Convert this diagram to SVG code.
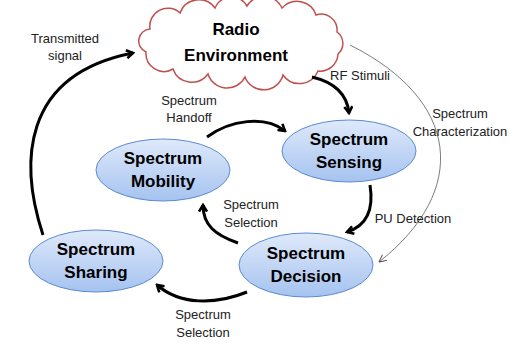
<svg xmlns="http://www.w3.org/2000/svg" width="510" height="344" viewBox="0 0 510 344">
<style>
.node ellipse{fill:url(#g);stroke:#5b8bd0;stroke-width:1}
.nt{font-family:"Liberation Sans",Arial,sans-serif;font-weight:bold;font-size:17px;fill:#000;text-anchor:middle}
.lb{font-family:"Liberation Sans",Arial,sans-serif;font-size:13px;fill:#222;text-anchor:middle}
.thick{fill:none;stroke:#000;stroke-width:3;marker-end:url(#ah)}
.thin{fill:none;stroke:#444;stroke-width:0.7;marker-end:url(#ahs)}
</style>
<defs>
<linearGradient id="g" x1="0" y1="0" x2="0" y2="1">
<stop offset="0" stop-color="#dfe9fa"/>
<stop offset="1" stop-color="#a5c3f0"/>
</linearGradient>
<marker id="ah" viewBox="0 0 10 10" refX="8" refY="5" markerWidth="10" markerHeight="10" markerUnits="userSpaceOnUse" orient="auto">
<path d="M1.5,1 L8,5 L1.5,9" fill="none" stroke="#000" stroke-width="2.6"/>
</marker>
<marker id="ahs" viewBox="0 0 10 10" refX="9" refY="5" markerWidth="9" markerHeight="9" markerUnits="userSpaceOnUse" orient="auto">
<path d="M1,1 L9,5 L1,9" fill="none" stroke="#444" stroke-width="1"/>
</marker>
</defs>
<g id="cloud">
<path d="M146,52 A12,12 0 0 1 150,29 A18,18 0 0 1 180,13 A20,20 0 0 1 215,8 A18,18 0 0 1 247,6 A20,20 0 0 1 282,8 A20,20 0 0 1 316,15 A16,16 0 0 1 337,32 A14,14 0 0 1 338,54 A18,18 0 0 1 318,71 A20,20 0 0 1 283,75 A20,20 0 0 1 245,77 A20,20 0 0 1 208,74 A20,20 0 0 1 173,69 A18,18 0 0 1 146,52 Z" fill="#fff" stroke="#c0504d" stroke-width="1.5"/>
<text class="nt" x="236" y="35">Radio</text>
<text class="nt" x="236" y="61">Environment</text>
</g>
<g id="connectors">
<path class="thick" d="M43,235 C20,165 20,75 133,53"/>
<path class="thick" d="M312,77 Q346,85 349,113"/>
<path class="thick" d="M370,185 C374,210 366,226 347,232"/>
<path class="thick" d="M238,243 C215,235 203,225 203,205"/>
<path class="thick" d="M247,292 C215,305 180,305 157,285"/>
<path class="thick" d="M207,137 C230,120 265,115 285,131"/>
<path class="thin" d="M350,45 C460,100 470,190 379,262"/>
<text class="lb" x="65" y="43">Transmitted</text>
<text class="lb" x="65" y="60">signal</text>
<text class="lb" x="360" y="80">RF Stimuli</text>
<text class="lb" x="460" y="118">Spectrum</text>
<text class="lb" x="460" y="136">Characterization</text>
<text class="lb" x="413" y="223">PU Detection</text>
<text class="lb" x="189" y="105">Spectrum</text>
<text class="lb" x="189" y="122">Handoff</text>
<text class="lb" x="251" y="209">Spectrum</text>
<text class="lb" x="251" y="227">Selection</text>
<text class="lb" x="203" y="319">Spectrum</text>
<text class="lb" x="203" y="337">Selection</text>
</g>
<g id="sensing" class="node">
<ellipse cx="349" cy="151" rx="67" ry="31"/>
<text class="nt" x="349" y="145">Spectrum</text>
<text class="nt" x="349" y="168">Sensing</text>
</g>
<g id="mobility" class="node">
<ellipse cx="163" cy="170" rx="67" ry="31"/>
<text class="nt" x="163" y="164">Spectrum</text>
<text class="nt" x="163" y="187">Mobility</text>
</g>
<g id="sharing" class="node">
<ellipse cx="96" cy="261" rx="67" ry="31"/>
<text class="nt" x="96" y="255">Spectrum</text>
<text class="nt" x="96" y="278">Sharing</text>
</g>
<g id="decision" class="node">
<ellipse cx="306" cy="265" rx="67" ry="32"/>
<text class="nt" x="306" y="259">Spectrum</text>
<text class="nt" x="306" y="282">Decision</text>
</g>
</svg>
